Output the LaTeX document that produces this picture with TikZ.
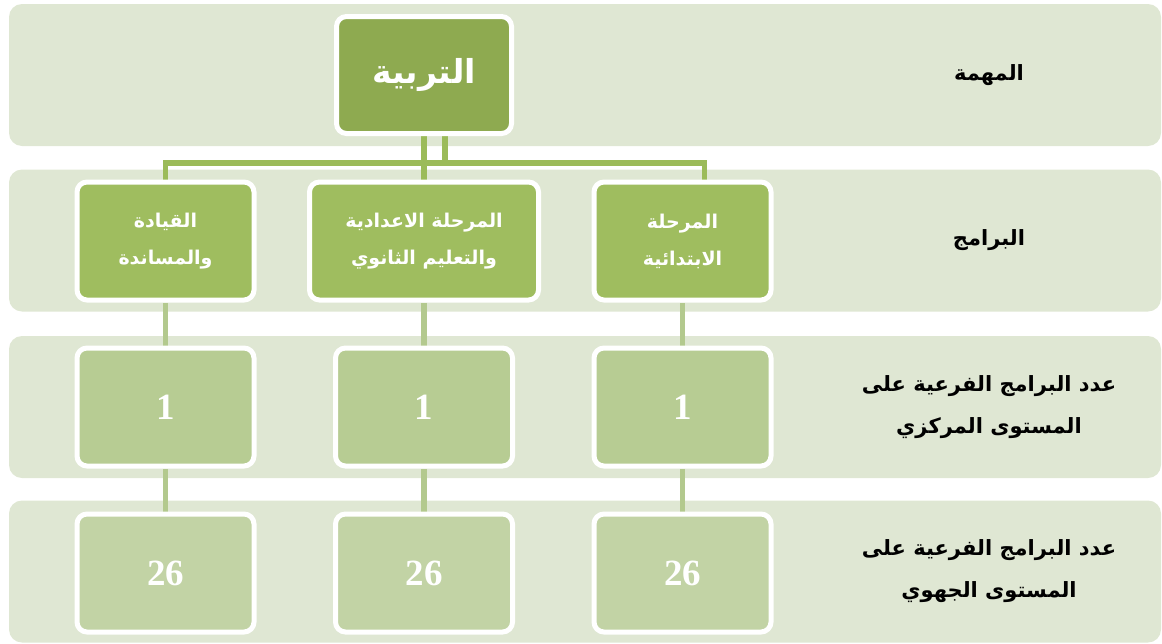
\documentclass[tikz,border=0pt]{standalone}
\usepackage{fontspec}
\setmainfont{Liberation Serif}
\newfontfamily\arabicfont[Script=Arabic]{DejaVu Sans}
\TeXXeTstate=1
\newcommand\arl[1]{\beginR #1\endR}
\definecolor{bandc}{HTML}{DFE7D3}
\definecolor{topc}{HTML}{8EAA50}
\definecolor{lvtwo}{HTML}{9FBD5F}
\definecolor{lvthree}{HTML}{B7CC93}
\definecolor{lvfour}{HTML}{C2D3A5}
\definecolor{connA}{HTML}{9BBB59}
\definecolor{connB}{HTML}{B3C98E}
\pgfdeclarelayer{back}
\pgfdeclarelayer{conn}
\pgfsetlayers{back,conn,main}
\begin{document}
\begin{tikzpicture}[x=1pt,y=-1pt,
  band/.style={fill=bandc, draw=none, rounded corners=13pt, minimum width=1152pt, minimum height=142pt, inner sep=0pt},
  lab/.style={text=black, align=center, font=\arabicfont\bfseries\fontsize{21}{42}\selectfont},
  box/.style={draw=white, line width=5pt, rounded corners=10pt, minimum width=177pt, minimum height=118pt, inner sep=0pt, text=white, align=center},
  topbox/.style={box, fill=topc, minimum width=175pt, minimum height=117pt, font=\arabicfont\bfseries\fontsize{33}{36}\selectfont},
  progbox/.style={box, fill=lvtwo, font=\arabicfont\bfseries\fontsize{19}{37}\selectfont},
  numthree/.style={box, fill=lvthree, font=\bfseries\fontsize{37}{40}\selectfont},
  numfour/.style={box, fill=lvfour, font=\bfseries\fontsize{37}{40}\selectfont},
  cA/.style={draw=connA, line width=5.5pt},
  cB/.style={draw=connB, line width=5.5pt}]
\useasboundingbox (0,0) rectangle (1162,643);
\begin{pgfonlayer}{back}
\node[band] (b1) at (585,75) {};
\node[band] (b2) at (585,240.5) {};
\node[band] (b3) at (585,407) {};
\node[band] (b4) at (585,571.5) {};
\end{pgfonlayer}
% right labels
\node[lab] (t1) at (989,75) {\arl{المهمة}};
\node[lab] (t2) at (989,240.5) {\arl{البرامج}};
\node[lab] (t3) at (989,407) {\arl{عدد البرامج الفرعية على}\\\arl{المستوى المركزي}};
\node[lab] (t4) at (989,571.5) {\arl{عدد البرامج الفرعية على}\\\arl{المستوى الجهوي}};
% boxes
\node[topbox] (top) at (424,75) {\arl{التربية}};
\node[progbox] (l2l) at (165.5,241) {\arl{القيادة}\\\arl{والمساندة}};
\node[progbox, minimum width=229pt] (l2m) at (424,241) {\arl{المرحلة الاعدادية}\\\arl{والتعليم الثانوي}};
\node[progbox] (l2r) at (682.5,241) {\arl{المرحلة}\\\arl{الابتدائية}};
\node[numthree] (l3l) at (165.5,407) {1};
\node[numthree] (l3m) at (424,407) {1};
\node[numthree] (l3r) at (682.5,407) {1};
\node[numfour] (l4l) at (165.5,573) {26};
\node[numfour] (l4m) at (424,573) {26};
\node[numfour] (l4r) at (682.5,573) {26};
% connectors
\begin{pgfonlayer}{conn}
\coordinate (bus) at (0,163);
\coordinate (tj) at ([xshift=21pt]top.south);
\coordinate (rj) at ([xshift=22pt]l2r.north);
\draw[cA] (top.south) -- (l2m.north);
\draw[cA] (tj) -- (tj |- bus);
\draw[cA] (l2l.north) |- (rj |- bus) -- (rj);
\draw[cB] (l2l.south) -- (l3l.north);
\draw[cB] (l2m.south) -- (l3m.north);
\draw[cB] (l2r.south) -- (l3r.north);
\draw[cB] (l3l.south) -- (l4l.north);
\draw[cB] (l3m.south) -- (l4m.north);
\draw[cB] (l3r.south) -- (l4r.north);
\end{pgfonlayer}
\end{tikzpicture}
\end{document}
